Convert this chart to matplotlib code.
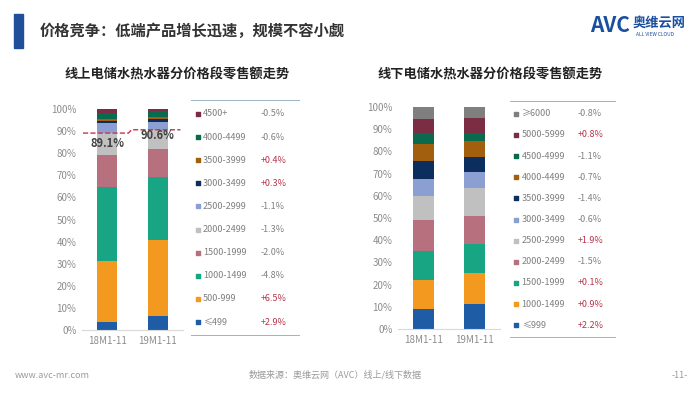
import numpy as np
import matplotlib.pyplot as plt
from matplotlib.patches import Rectangle

plt.rcParams['font.family'] = ['Noto Sans CJK SC', 'DejaVu Sans']

# 数据 (%)
periods = ["18M1-11", "19M1-11"]

online_segs = ["≤499", "500-999", "1000-1499", "1500-1999", "2000-2499",
               "2500-2999", "3000-3499", "3500-3999", "4000-4499", "4500+"]
online_18 = [3.4, 27.9, 33.5, 14.4, 9.9, 4.7, 0.9, 0.8, 2.9, 1.6]
online_19 = [6.3, 34.4, 28.7, 12.4, 8.8, 3.6, 1.2, 1.2, 2.3, 1.1]
online_chg = ["+2.9%", "+6.5%", "-4.8%", "-2.0%", "-1.3%",
              "-1.1%", "+0.3%", "+0.4%", "-0.6%", "-0.5%"]
online_mark = [89.1, 90.6]

offline_segs = ["≤999", "1000-1499", "1500-1999", "2000-2499", "2500-2999",
                "3000-3499", "3500-3999", "4000-4499", "4500-4999",
                "5000-5999", "≥6000"]
offline_18 = [9.2, 12.9, 12.9, 13.9, 10.9, 7.9, 8.1, 7.7, 4.8, 6.1, 5.6]
offline_19 = [11.4, 13.8, 13.0, 12.6, 12.8, 7.3, 6.7, 7.0, 3.7, 6.9, 4.8]
offline_chg = ["+2.2%", "+0.9%", "+0.1%", "-1.5%", "+1.9%",
               "-0.6%", "-1.4%", "-0.7%", "-1.1%", "+0.8%", "-0.8%"]

cols = ["#1f5ca6", "#f3991f", "#17a583", "#b7707e", "#c0c0c0",
        "#8c9fd2", "#0c2e5e", "#a2600f", "#0a6a4e", "#7b2d44", "#7f7f7f"]

W, H = 700, 394
fig = plt.figure(figsize=(7, 3.94), dpi=100)
fig.patch.set_facecolor("white")


def px(x0, y0, x1, y1):
    # 像素框 -> figure 坐标
    return [x0 / W, 1 - y1 / H, (x1 - x0) / W, (y1 - y0) / H]


# 标题栏
fig.patches.append(Rectangle((14 / W, 1 - 48 / H), 9 / W, 34 / H,
                             transform=fig.transFigure, color="#1f4e9b"))
fig.text(40 / W, 1 - 31 / H, "价格竞争：低端产品增长迅速，规模不容小觑",
         fontsize=11, fontweight="bold", color="#333333", va="center")
fig.text(590 / W, 1 - 26 / H, "AVC", fontsize=15, fontweight="bold",
         style="italic", color="#1a4fa0", va="center")
fig.text(633 / W, 1 - 23 / H, "奥维云网", fontsize=9.5, fontweight="bold",
         color="#1a4fa0", va="center")
fig.text(636 / W, 1 - 35 / H, "ALL VIEW CLOUD", fontsize=3.5,
         color="#1a4fa0", va="center")

fig.text(177 / W, 1 - 75 / H, "线上电储水热水器分价格段零售额走势",
         fontsize=9.5, fontweight="bold", color="#222222", ha="center", va="center")
fig.text(490 / W, 1 - 75 / H, "线下电储水热水器分价格段零售额走势",
         fontsize=9.5, fontweight="bold", color="#222222", ha="center", va="center")


def stacked(ax, a, b):
    x = np.arange(len(periods))
    bot = np.zeros(2)
    for i, (v1, v2) in enumerate(zip(a, b)):
        vals = np.array([v1, v2])
        ax.bar(x, vals, 0.4, bottom=bot, color=cols[i], linewidth=0)
        bot += vals
    ax.set_xlim(-0.5, 1.5)
    ax.set_ylim(0, 100)
    ax.set_yticks(np.arange(0, 101, 10))
    ax.set_yticklabels([f"{t}%" for t in range(0, 101, 10)])
    ax.set_xticks(x)
    ax.set_xticklabels(periods)
    ax.tick_params(length=0, labelsize=7, colors="#8c8c8c", pad=4)
    for s in ["top", "right", "left"]:
        ax.spines[s].set_visible(False)
    ax.spines["bottom"].set_color("#d9d9d9")
    ax.patch.set_alpha(0)


def legend(ax, segs, chg, n):
    ax.set_xlim(0, 1)
    ax.set_ylim(-0.6, n - 0.4)
    ax.axis("off")
    ax.axhline(n - 0.4, color="#8ea6bd", lw=1.2)
    ax.axhline(-0.6, color="#8ea6bd", lw=1.2)
    for i, (s, c) in enumerate(zip(segs, chg)):
        ax.scatter(0.06, i, marker="s", s=9, color=cols[i])
        ax.text(0.11, i, s, fontsize=6.5, color="#7f7f7f", va="center")
        ax.text(0.64, i, c, fontsize=6.5, va="center",
                color="#b8344a" if c.startswith("+") else "#808080")


# 线上
ax1 = fig.add_axes(px(82, 109, 183, 330))
stacked(ax1, online_18, online_19)
ax1.plot([-0.48, 0.42, 0.48, 1.45],
         [online_mark[0], online_mark[0], online_mark[1], online_mark[1]],
         ls="--", color="#d0324a", lw=1)
ax1.text(0, online_mark[0] - 4.5, f"{online_mark[0]}%", ha="center", va="center",
         fontsize=8, fontweight="bold", color="#404040")
ax1.text(1, online_mark[1] - 2.6, f"{online_mark[1]}%", ha="center", va="center",
         fontsize=8, fontweight="bold", color="#404040")
lg1 = fig.add_axes(px(191, 100, 300, 336))
legend(lg1, online_segs, online_chg, len(online_segs))

# 线下
ax2 = fig.add_axes(px(398, 107, 500, 329))
stacked(ax2, offline_18, offline_19)
lg2 = fig.add_axes(px(510, 101, 616, 338))
legend(lg2, offline_segs, offline_chg, len(offline_segs))

# 页脚
fig.text(15 / W, 1 - 375 / H, "www.avc-mr.com", fontsize=6.5,
         color="#9a9a9a", va="center")
fig.text(335 / W, 1 - 375 / H, "数据来源：奥维云网（AVC）线上/线下数据",
         fontsize=6.5, color="#9a9a9a", ha="center", va="center")
fig.text(680 / W, 1 - 375 / H, "-11-", fontsize=6.5, color="#9a9a9a",
         ha="center", va="center")

plt.savefig("out.png", dpi=100)
